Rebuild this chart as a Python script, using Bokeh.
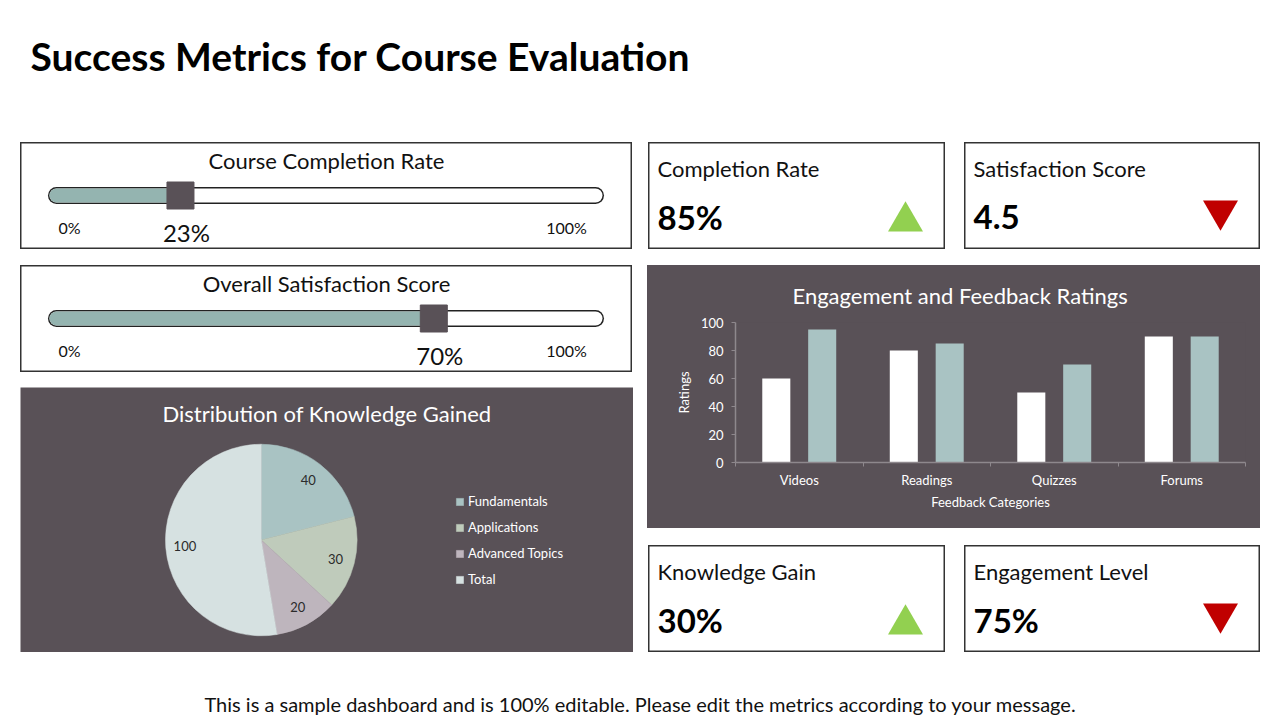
import numpy as np
from bokeh.plotting import figure
from bokeh.layouts import row, column
from bokeh.models import Spacer, Range1d, FixedTicker, Title, Legend, LegendItem
from bokeh.core.properties import value
from bokeh.embed import file_html
from bokeh.resources import INLINE

# ---------------- data ----------------
TITLE = "Success Metrics for Course Evaluation"
FOOTER = "This is a sample dashboard and is 100% editable. Please edit the metrics according to your message."

gauge_titles = ["Course Completion Rate", "Overall Satisfaction Score"]
gauge_values = [23, 70]

kpi_titles = ["Completion Rate", "Satisfaction Score", "Knowledge Gain", "Engagement Level"]
kpi_values = ["85%", "4.5", "30%", "75%"]
kpi_trend = ["up", "down", "up", "down"]

pie_title = "Distribution of Knowledge Gained"
pie_labels = ["Fundamentals", "Applications", "Advanced Topics", "Total"]
pie_values = [40, 30, 20, 100]

bar_title = "Engagement and Feedback Ratings"
bar_categories = ["Videos", "Readings", "Quizzes", "Forums"]
bar_series1 = [60, 80, 50, 90]
bar_series2 = [95, 85, 70, 90]
bar_yticks = [0, 20, 40, 60, 80, 100]

# ---------------- styles ----------------
FONT = "Lato"
DARK = "#595157"
TEAL = "#A9C3C3"
GAUGE_FILL = "#94B4B0"
PIE_COLORS = ["#A9C3C3", "#BFCBBB", "#BEB5BD", "#D6E1E1"]
GREEN = "#92D050"
RED = "#C00000"
AXIS_GRAY = "#8E888D"


def blank(w, h, xr, yr, bg="white", outline=None):
    p = figure(width=w, height=h, x_range=xr, y_range=yr, x_axis_type=None, y_axis_type=None,
               toolbar_location=None, output_backend="svg", min_border=0,
               background_fill_color=bg, border_fill_color=bg)
    p.outline_line_color = outline
    p.outline_line_width = 2
    return p


def txt(p, x, y, s, size, color="#111111", align="center", bold=False, x_offset=0):
    p.text(x=[x], y=[y], text=[s], text_font=value(FONT), text_font_size=f"{size}px",
           text_color=color, text_align=align, text_baseline="middle",
           text_font_style="bold" if bold else "normal", x_offset=x_offset)


# ---------------- title & footer ----------------
title_fig = blank(1280, 142, Range1d(0, 1280), Range1d(142, 0))
txt(title_fig, 30, 55, TITLE, 39, color="#000000", align="left", bold=True)

footer_fig = blank(1280, 68, Range1d(0, 1280), Range1d(68, 0))
txt(footer_fig, 640, 51, FOOTER, 20, color="#111111")

# ---------------- gauges ----------------
GW, GH = 612, 107
PXU = 5.39  # px per percent
X0 = 36


def gauge(title, v):
    p = blank(GW, GH, Range1d(-X0 / PXU, (GW - X0) / PXU), Range1d(GH, 0), outline="#333333")
    ty = 53
    p.line([0, 100], [ty, ty], line_width=17, line_color="#222222", line_cap="round")
    p.line([0, 100], [ty, ty], line_width=14, line_color="white", line_cap="round")
    p.line([0, v], [ty, ty], line_width=14, line_color=GAUGE_FILL, line_cap="round")
    p.scatter([v], [ty], marker="square", size=27, fill_color=DARK, line_color=DARK)
    txt(p, (306 - X0) / PXU, 18, title, 22, color="#111111")
    txt(p, (49 - X0) / PXU, 85, "0%", 16)
    txt(p, (546 - X0) / PXU, 85, "100%", 16)
    txt(p, v, 90, f"{v}%", 24, x_offset=6)
    return p


g1 = gauge(gauge_titles[0], gauge_values[0])
g2 = gauge(gauge_titles[1], gauge_values[1])

# ---------------- KPI cards ----------------
KW, KH = 297, 107


def kpi(title, val, trend, w=KW):
    p = blank(w, KH, Range1d(0, w), Range1d(KH, 0), outline="#333333")
    txt(p, 9, 26, title, 22, color="#111111", align="left")
    txt(p, 9, 74, val, 33, color="#000000", align="left", bold=True)
    if trend == "up":
        p.scatter([257], [79], marker="triangle", size=35, fill_color=GREEN, line_color=None)
    else:
        p.scatter([256], [68], marker="inverted_triangle", size=35, fill_color=RED, line_color=None)
    return p


k1 = kpi(kpi_titles[0], kpi_values[0], kpi_trend[0])
k2 = kpi(kpi_titles[1], kpi_values[1], kpi_trend[1], w=296)
k3 = kpi(kpi_titles[2], kpi_values[2], kpi_trend[2])
k4 = kpi(kpi_titles[3], kpi_values[3], kpi_trend[3], w=296)

# ---------------- bar chart ----------------
n = len(bar_categories)
bar = figure(width=613, height=263, x_range=Range1d(0, n), y_range=Range1d(0, 100),
             toolbar_location=None, output_backend="svg",
             min_border_left=88, min_border_right=15, min_border_top=57, min_border_bottom=66,
             background_fill_color=DARK, border_fill_color=DARK)
bar.styles = {"background-color": DARK}
bar.outline_line_color = None
bar.grid.visible = False
xc = np.arange(n) + 0.5
bar.vbar(x=xc - 0.18, top=bar_series1, width=0.22, fill_color="white", line_color=None)
bar.vbar(x=xc + 0.18, top=bar_series2, width=0.22, fill_color=TEAL, line_color=None)

xa = bar.xaxis[0]
xa.ticker = FixedTicker(ticks=list(xc), minor_ticks=list(range(n + 1)))
xa.major_label_overrides = {float(c): lab for c, lab in zip(xc, bar_categories)}
xa.major_tick_line_color = None
xa.minor_tick_line_color = AXIS_GRAY
xa.minor_tick_out = 4
xa.minor_tick_in = 0
xa.major_label_standoff = 3
xa.axis_label = "Feedback Categories"
xa.axis_label_standoff = 3

ya = bar.yaxis[0]
ya.ticker = FixedTicker(ticks=bar_yticks)
ya.minor_tick_line_color = None
ya.major_tick_line_color = AXIS_GRAY
ya.major_tick_out = 4
ya.major_tick_in = 0
ya.major_label_standoff = 8
ya.axis_label = "Ratings"
ya.axis_label_standoff = 6

for ax in (xa, ya):
    ax.axis_line_color = AXIS_GRAY
    ax.axis_line_width = 1.5
    ax.major_label_text_color = "white"
    ax.major_label_text_font = FONT
    ax.major_label_text_font_size = "13px"
    ax.axis_label_text_color = "white"
    ax.axis_label_text_font = FONT
    ax.axis_label_text_font_size = "13px"
    ax.axis_label_text_font_style = "normal"

bar.add_layout(Title(text=bar_title, align="left", offset=57, standoff=28,
                     text_color="white", text_font=FONT, text_font_size="22px",
                     text_font_style="normal"), "above")

# ---------------- pie ----------------
pie = blank(613, 265, Range1d(0, 613), Range1d(0, 265), bg=DARK)
cx, cy, R = 240.8, 112.5, 95.8
vals = np.array(pie_values, dtype=float)
frac = vals / vals.sum()
cum = np.concatenate([[0], np.cumsum(frac)[:-1]])
starts = np.pi / 2 - cum * 2 * np.pi
ends = starts - frac * 2 * np.pi
items = []
for i, lab in enumerate(pie_labels):
    r = pie.wedge(x=cx, y=cy, radius=R, start_angle=starts[i], end_angle=ends[i], direction="clock",
                  fill_color=PIE_COLORS[i], line_color=PIE_COLORS[i], line_width=0.5)
    items.append(LegendItem(label=lab, renderers=[r]))
    mid = (starts[i] + ends[i]) / 2
    rr = 0.8 * R
    pie.text(x=[cx + rr * np.cos(mid)], y=[cy + rr * np.sin(mid)], text=[str(pie_values[i])],
             text_font=value(FONT), text_font_size="13px", text_color="#2b2b2b",
             text_align="center", text_baseline="middle")

txt(pie, 306.5, 239, pie_title, 22, color="white")

leg = Legend(items=items, location=(435, 63), background_fill_alpha=0, border_line_color=None,
             label_text_color="white", label_text_font=FONT, label_text_font_size="13px",
             glyph_width=9, glyph_height=9, label_standoff=4, spacing=6, padding=0, margin=0,
             label_height=20)
pie.add_layout(leg)

# ---------------- layout ----------------
left = column(g1, Spacer(height=16), g2, Spacer(height=15), pie)
kpi_top = row(Spacer(width=1), k1, Spacer(width=19), k2)
kpi_bot = row(Spacer(width=1), k3, Spacer(width=19), k4)
right = column(kpi_top, Spacer(height=16), bar, Spacer(height=17), kpi_bot)
mid = row(Spacer(width=20), left, Spacer(width=14), right)
layout = column(title_fig, mid, footer_fig)

open("out.html", "w").write(file_html(layout, INLINE, title=TITLE))
